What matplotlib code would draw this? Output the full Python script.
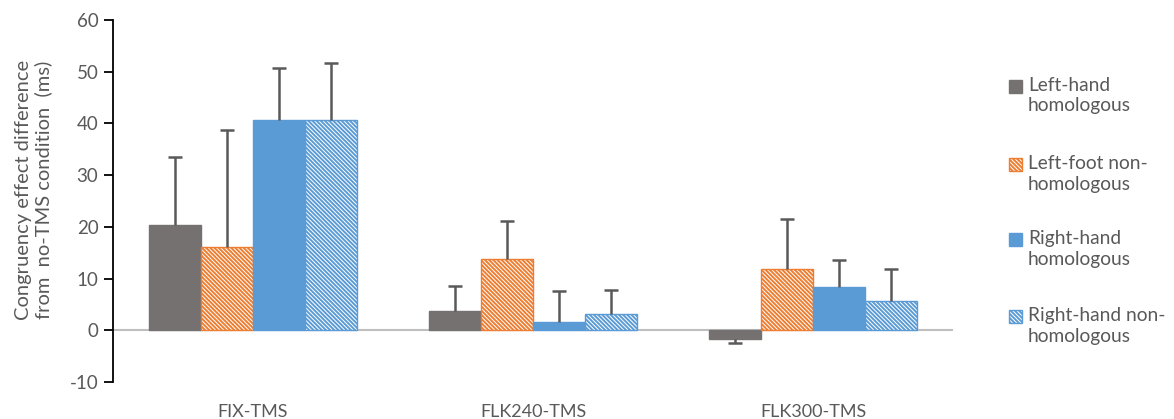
import matplotlib
matplotlib.use("Agg")
import matplotlib.pyplot as plt
import numpy as np
from matplotlib.patches import Rectangle

plt.rcParams['font.family'] = ['Lato', 'DejaVu Sans']
plt.rcParams['hatch.linewidth'] = 1.4
plt.rcParams['axes.unicode_minus'] = False

# Data
conditions = ['FIX-TMS', 'FLK240-TMS', 'FLK300-TMS']
series_labels = ['Left-hand\nhomologous', 'Left-foot non-\nhomologous',
                 'Right-hand\nhomologous', 'Right-hand non-\nhomologous']
left_hand_hom = [20.4, 3.7, -1.6]
left_foot_nonhom = [16.2, 13.7, 11.8]
right_hand_hom = [40.7, 1.6, 8.3]
right_hand_nonhom = [40.7, 3.2, 5.6]
left_hand_hom_err = [13.2, 4.9, 0.9]
left_foot_nonhom_err = [22.5, 7.5, 9.8]
right_hand_hom_err = [10.0, 6.0, 5.3]
right_hand_nonhom_err = [11.0, 4.6, 6.3]

values = [left_hand_hom, left_foot_nonhom, right_hand_hom, right_hand_nonhom]
errors = [left_hand_hom_err, left_foot_nonhom_err, right_hand_hom_err, right_hand_nonhom_err]

gray = '#767171'
orange = '#ED7D31'
blue = '#5B9BD5'
text_col = '#595959'
dense = '\\' * 8
# (face, edge, hatch)
styles = [(gray, gray, None), ('white', orange, dense),
          (blue, blue, None), ('white', blue, dense)]

fig = plt.figure(figsize=(11.74, 4.19), dpi=100)
ax = fig.add_axes([113 / 1174, 1 - 382 / 419, 840 / 1174, 362 / 419])

x = np.arange(len(conditions))
width = 0.186
for i, (vals, errs) in enumerate(zip(values, errors)):
    face, edge, hatch = styles[i]
    pos = x + (i - 1.5) * width
    vals = np.array(vals)
    errs = np.array(errs)
    ax.bar(pos, vals, width, color=face, edgecolor=edge, hatch=hatch,
           linewidth=1.0, zorder=2)
    # error bar only on the outer side of each bar
    tips = vals + np.sign(vals) * errs
    ax.vlines(pos, vals, tips, color='#595959', linewidth=1.8, zorder=3)
    ax.plot(pos, tips, linestyle='none', marker='_', markersize=10,
            markeredgewidth=1.8, color='#595959', zorder=3)

ax.axhline(0, color='#BFBFBF', linewidth=1.5, zorder=1)

ax.set_xlim(-0.5, 2.5)
ax.set_ylim(-10, 60)
ax.set_yticks(np.arange(-10, 61, 10))
ax.tick_params(axis='y', direction='out', length=6.5, width=1.3, pad=4,
               labelsize=13.5, labelcolor=text_col, color='black')
ax.set_xticks(x)
ax.set_xticklabels(conditions)
ax.tick_params(axis='x', length=0, pad=16, labelsize=13, labelcolor=text_col)

for side in ['top', 'right', 'bottom']:
    ax.spines[side].set_visible(False)
ax.spines['left'].set_linewidth(1.3)

fig.text(34 / 1174, 1 - 190 / 419,
         'Congruency effect difference\nfrom  no-TMS condition  (ms)',
         rotation=90, ha='center', va='center', multialignment='center',
         fontsize=14.5, color=text_col, linespacing=1.15)

# Legend drawn by hand so each swatch sits next to the first text line
leg_tops = [77, 155, 230, 307]
for i, label in enumerate(series_labels):
    face, edge, hatch = styles[i]
    y_top = leg_tops[i]
    sq = Rectangle((1009 / 1174, 1 - (y_top + 16) / 419), 13 / 1174, 13 / 419,
                   transform=fig.transFigure, facecolor=face, edgecolor=edge,
                   hatch=hatch, linewidth=1.0)
    fig.add_artist(sq)
    fig.text(1028 / 1174, 1 - y_top / 419, label, ha='left', va='top',
             fontsize=13.8, color=text_col, linespacing=1.25)

fig.savefig('out.png', dpi=100)
